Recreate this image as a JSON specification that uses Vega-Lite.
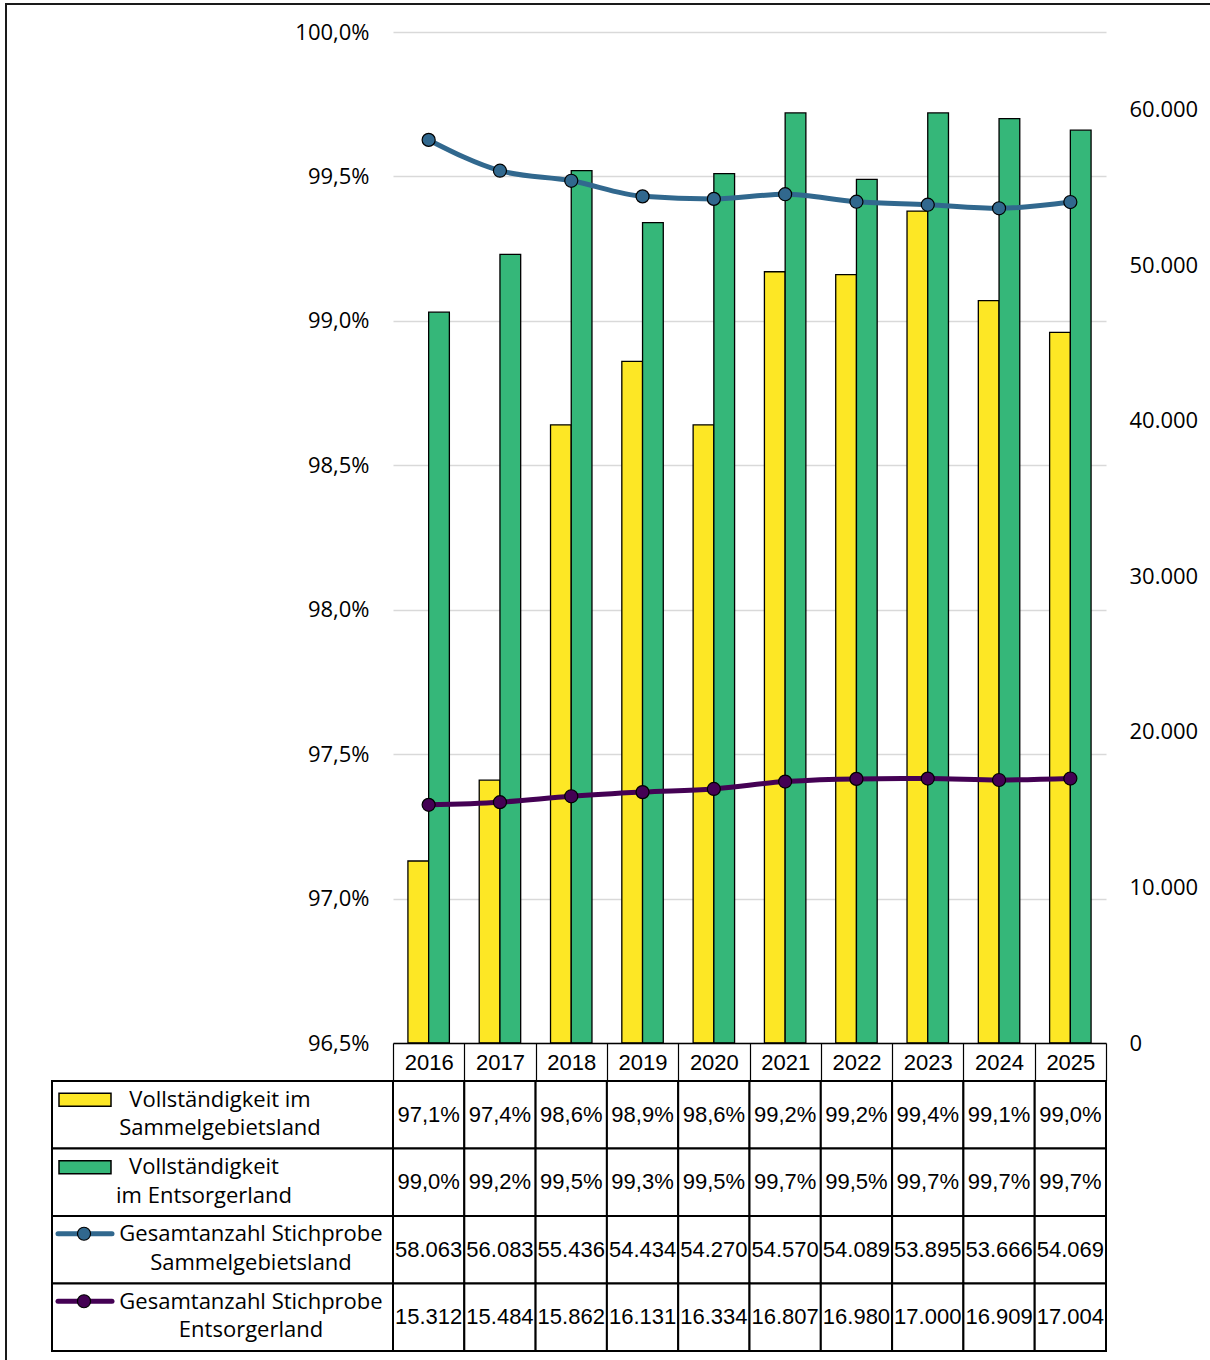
{
  "$schema": "https://vega.github.io/schema/vega-lite/v6.json",
  "width": 1210,
  "height": 1362,
  "autosize": {"type": "none"},
  "padding": {"left": 6, "top": 4, "right": -6, "bottom": -6},
  "background": "white",
  "config": {
    "locale": {"number": {"decimal": ",", "thousands": ".", "grouping": [3], "currency": ["", " €"]}},
    "view": {"stroke": "#1a1a1a", "strokeWidth": 2},
    "font": "Liberation Sans"
  },
  "datasets": {
    "werte": [
      {"Jahr": "2016", "Reihe": "Vollständigkeit im Sammelgebietsland", "Wert": 0.9713},
      {"Jahr": "2017", "Reihe": "Vollständigkeit im Sammelgebietsland", "Wert": 0.9741},
      {"Jahr": "2018", "Reihe": "Vollständigkeit im Sammelgebietsland", "Wert": 0.9864},
      {"Jahr": "2019", "Reihe": "Vollständigkeit im Sammelgebietsland", "Wert": 0.9886},
      {"Jahr": "2020", "Reihe": "Vollständigkeit im Sammelgebietsland", "Wert": 0.9864},
      {"Jahr": "2021", "Reihe": "Vollständigkeit im Sammelgebietsland", "Wert": 0.9917},
      {"Jahr": "2022", "Reihe": "Vollständigkeit im Sammelgebietsland", "Wert": 0.9916},
      {"Jahr": "2023", "Reihe": "Vollständigkeit im Sammelgebietsland", "Wert": 0.9938},
      {"Jahr": "2024", "Reihe": "Vollständigkeit im Sammelgebietsland", "Wert": 0.9907},
      {"Jahr": "2025", "Reihe": "Vollständigkeit im Sammelgebietsland", "Wert": 0.9896},
      {"Jahr": "2016", "Reihe": "Vollständigkeit im Entsorgerland", "Wert": 0.9903},
      {"Jahr": "2017", "Reihe": "Vollständigkeit im Entsorgerland", "Wert": 0.9923},
      {"Jahr": "2018", "Reihe": "Vollständigkeit im Entsorgerland", "Wert": 0.9952},
      {"Jahr": "2019", "Reihe": "Vollständigkeit im Entsorgerland", "Wert": 0.9934},
      {"Jahr": "2020", "Reihe": "Vollständigkeit im Entsorgerland", "Wert": 0.9951},
      {"Jahr": "2021", "Reihe": "Vollständigkeit im Entsorgerland", "Wert": 0.9972},
      {"Jahr": "2022", "Reihe": "Vollständigkeit im Entsorgerland", "Wert": 0.9949},
      {"Jahr": "2023", "Reihe": "Vollständigkeit im Entsorgerland", "Wert": 0.9972},
      {"Jahr": "2024", "Reihe": "Vollständigkeit im Entsorgerland", "Wert": 0.9970},
      {"Jahr": "2025", "Reihe": "Vollständigkeit im Entsorgerland", "Wert": 0.9966},
      {"Jahr": "2016", "Reihe": "Gesamtanzahl Stichprobe Sammelgebietsland", "Wert": 58063},
      {"Jahr": "2017", "Reihe": "Gesamtanzahl Stichprobe Sammelgebietsland", "Wert": 56083},
      {"Jahr": "2018", "Reihe": "Gesamtanzahl Stichprobe Sammelgebietsland", "Wert": 55436},
      {"Jahr": "2019", "Reihe": "Gesamtanzahl Stichprobe Sammelgebietsland", "Wert": 54434},
      {"Jahr": "2020", "Reihe": "Gesamtanzahl Stichprobe Sammelgebietsland", "Wert": 54270},
      {"Jahr": "2021", "Reihe": "Gesamtanzahl Stichprobe Sammelgebietsland", "Wert": 54570},
      {"Jahr": "2022", "Reihe": "Gesamtanzahl Stichprobe Sammelgebietsland", "Wert": 54089},
      {"Jahr": "2023", "Reihe": "Gesamtanzahl Stichprobe Sammelgebietsland", "Wert": 53895},
      {"Jahr": "2024", "Reihe": "Gesamtanzahl Stichprobe Sammelgebietsland", "Wert": 53666},
      {"Jahr": "2025", "Reihe": "Gesamtanzahl Stichprobe Sammelgebietsland", "Wert": 54069},
      {"Jahr": "2016", "Reihe": "Gesamtanzahl Stichprobe Entsorgerland", "Wert": 15312},
      {"Jahr": "2017", "Reihe": "Gesamtanzahl Stichprobe Entsorgerland", "Wert": 15484},
      {"Jahr": "2018", "Reihe": "Gesamtanzahl Stichprobe Entsorgerland", "Wert": 15862},
      {"Jahr": "2019", "Reihe": "Gesamtanzahl Stichprobe Entsorgerland", "Wert": 16131},
      {"Jahr": "2020", "Reihe": "Gesamtanzahl Stichprobe Entsorgerland", "Wert": 16334},
      {"Jahr": "2021", "Reihe": "Gesamtanzahl Stichprobe Entsorgerland", "Wert": 16807},
      {"Jahr": "2022", "Reihe": "Gesamtanzahl Stichprobe Entsorgerland", "Wert": 16980},
      {"Jahr": "2023", "Reihe": "Gesamtanzahl Stichprobe Entsorgerland", "Wert": 17000},
      {"Jahr": "2024", "Reihe": "Gesamtanzahl Stichprobe Entsorgerland", "Wert": 16909},
      {"Jahr": "2025", "Reihe": "Gesamtanzahl Stichprobe Entsorgerland", "Wert": 17004}
    ],
    "legende": [
      {"Reihe": "Vollständigkeit im Sammelgebietsland", "Text": "Vollständigkeit im\nSammelgebietsland"},
      {"Reihe": "Vollständigkeit im Entsorgerland", "Text": "Vollständigkeit\nim Entsorgerland"},
      {"Reihe": "Gesamtanzahl Stichprobe Sammelgebietsland", "Text": "Gesamtanzahl Stichprobe\nSammelgebietsland"},
      {"Reihe": "Gesamtanzahl Stichprobe Entsorgerland", "Text": "Gesamtanzahl Stichprobe\nEntsorgerland"}
    ]
  },
  "resolve": {"scale": {"x": "independent", "y": "independent"}},
  "layer": [
    {
      "data": {"name": "werte"},
      "transform": [{"filter": {"field": "Reihe", "oneOf": ["Vollständigkeit im Sammelgebietsland", "Vollständigkeit im Entsorgerland"]}}],
      "mark": {"type": "bar", "stroke": "#000", "strokeWidth": 1.3},
      "encoding": {
        "x": {"field": "Jahr", "type": "nominal", "scale": {"range": [387, 1100], "paddingInner": 0, "paddingOuter": 0},
          "axis": {"orient": "bottom", "offset": -323, "title": null, "tickBand": "extent", "tickSize": 37.7, "tickColor": "#000", "tickWidth": 1.2, "domainColor": "#000", "domainWidth": 1.5, "labelFont": "Liberation Sans", "labelFontSize": 22, "labelColor": "#000", "labelBaseline": "middle", "labelPadding": -18.7, "labelAngle": 0, "grid": false, "zindex": 1}},
        "xOffset": {"field": "Reihe", "type": "nominal", "scale": {"domain": ["Vollständigkeit im Sammelgebietsland", "Vollständigkeit im Entsorgerland"], "paddingInner": 0, "paddingOuter": 0.72}},
        "y": {"field": "Wert", "type": "quantitative", "scale": {"domain": [0.965, 1], "range": [1039, 28], "zero": false, "nice": false},
          "axis": {"orient": "left", "offset": -387, "title": null, "values": [0.965, 0.97, 0.975, 0.98, 0.985, 0.99, 0.995, 1], "format": ".1%", "domain": false, "ticks": false, "labelPadding": 24, "labelFont": "Open Sans", "labelFontSize": 22, "labelColor": "#000", "labelFlush": false, "grid": true, "gridColor": "#d9d9d9", "gridWidth": 1.5}},
        "y2": {"datum": 0.965},
        "color": {"field": "Reihe", "type": "nominal", "scale": {"domain": ["Vollständigkeit im Sammelgebietsland", "Vollständigkeit im Entsorgerland", "Gesamtanzahl Stichprobe Sammelgebietsland", "Gesamtanzahl Stichprobe Entsorgerland"], "range": ["#FDE725", "#35B779", "#31688E", "#440154"]}, "legend": null}
      }
    },
    {
      "data": {"name": "werte"},
      "transform": [{"filter": {"field": "Reihe", "oneOf": ["Gesamtanzahl Stichprobe Sammelgebietsland", "Gesamtanzahl Stichprobe Entsorgerland"]}}],
      "mark": {"type": "line", "interpolate": "monotone", "strokeWidth": 5, "point": {"filled": true, "size": 170, "stroke": "#000", "strokeWidth": 1.2}},
      "encoding": {
        "x": {"field": "Jahr", "type": "nominal", "scale": {"range": [387, 1100], "paddingInner": 0, "paddingOuter": 0}, "axis": null},
        "y": {"field": "Wert", "type": "quantitative", "scale": {"domain": [0, 65000], "range": [1039, 28], "nice": false},
          "axis": {"orient": "right", "offset": -110, "title": null, "values": [0, 10000, 20000, 30000, 40000, 50000, 60000], "format": ",.0f", "domain": false, "ticks": false, "labelPadding": 23, "labelFont": "Open Sans", "labelFontSize": 22, "labelColor": "#000", "labelFlush": false, "grid": false}},
        "color": {"field": "Reihe", "type": "nominal", "scale": {"domain": ["Vollständigkeit im Sammelgebietsland", "Vollständigkeit im Entsorgerland", "Gesamtanzahl Stichprobe Sammelgebietsland", "Gesamtanzahl Stichprobe Entsorgerland"], "range": ["#FDE725", "#35B779", "#31688E", "#440154"]}, "legend": null}
      }
    },
    {
      "data": {"name": "werte"},
      "mark": {"type": "rect", "fill": "white", "stroke": "#000", "strokeWidth": 2},
      "encoding": {
        "x": {"field": "Jahr", "type": "nominal", "scale": {"range": [387, 1100], "paddingInner": 0, "paddingOuter": 0}, "axis": null},
        "y": {"field": "Reihe", "type": "nominal", "scale": {"domain": ["Vollständigkeit im Sammelgebietsland", "Vollständigkeit im Entsorgerland", "Gesamtanzahl Stichprobe Sammelgebietsland", "Gesamtanzahl Stichprobe Entsorgerland"], "range": [1077, 1347], "paddingInner": 0, "paddingOuter": 0}, "axis": null}
      }
    },
    {
      "data": {"name": "legende"},
      "mark": {"type": "rect", "fill": "white", "stroke": "#000", "strokeWidth": 2},
      "encoding": {
        "x": {"datum": "Legende", "type": "nominal", "scale": {"range": [46, 387], "paddingInner": 0, "paddingOuter": 0}, "axis": null},
        "y": {"field": "Reihe", "type": "nominal", "scale": {"domain": ["Vollständigkeit im Sammelgebietsland", "Vollständigkeit im Entsorgerland", "Gesamtanzahl Stichprobe Sammelgebietsland", "Gesamtanzahl Stichprobe Entsorgerland"], "range": [1077, 1347], "paddingInner": 0, "paddingOuter": 0}, "axis": null}
      }
    },
    {
      "data": {"name": "werte"},
      "transform": [{"filter": {"field": "Reihe", "oneOf": ["Vollständigkeit im Sammelgebietsland", "Vollständigkeit im Entsorgerland"]}}],
      "mark": {"type": "text", "font": "Liberation Sans", "fontSize": 22, "baseline": "middle", "align": "center", "color": "#000"},
      "encoding": {
        "x": {"field": "Jahr", "type": "nominal", "scale": {"range": [387, 1100], "paddingInner": 0, "paddingOuter": 0}, "axis": null},
        "y": {"field": "Reihe", "type": "nominal", "scale": {"domain": ["Vollständigkeit im Sammelgebietsland", "Vollständigkeit im Entsorgerland", "Gesamtanzahl Stichprobe Sammelgebietsland", "Gesamtanzahl Stichprobe Entsorgerland"], "range": [1077, 1347], "paddingInner": 0, "paddingOuter": 0}, "axis": null},
        "text": {"field": "Wert", "type": "quantitative", "format": ".1%"}
      }
    },
    {
      "data": {"name": "werte"},
      "transform": [{"filter": {"field": "Reihe", "oneOf": ["Gesamtanzahl Stichprobe Sammelgebietsland", "Gesamtanzahl Stichprobe Entsorgerland"]}}],
      "mark": {"type": "text", "font": "Liberation Sans", "fontSize": 22, "baseline": "middle", "align": "center", "color": "#000"},
      "encoding": {
        "x": {"field": "Jahr", "type": "nominal", "scale": {"range": [387, 1100], "paddingInner": 0, "paddingOuter": 0}, "axis": null},
        "y": {"field": "Reihe", "type": "nominal", "scale": {"domain": ["Vollständigkeit im Sammelgebietsland", "Vollständigkeit im Entsorgerland", "Gesamtanzahl Stichprobe Sammelgebietsland", "Gesamtanzahl Stichprobe Entsorgerland"], "range": [1077, 1347], "paddingInner": 0, "paddingOuter": 0}, "axis": null},
        "text": {"field": "Wert", "type": "quantitative", "format": ",.0f"}
      }
    },
    {
      "data": {"name": "legende"},
      "transform": [{"filter": {"field": "Reihe", "oneOf": ["Vollständigkeit im Sammelgebietsland"]}}],
      "mark": {"type": "text", "font": "Open Sans", "fontSize": 22, "baseline": "alphabetic", "align": "center", "color": "#000", "lineBreak": "\n", "lineHeight": 28.5, "dx": -2.5, "dy": -8},
      "encoding": {
        "x": {"datum": "Legende", "type": "nominal", "scale": {"range": [46, 387], "paddingInner": 0, "paddingOuter": 0}, "axis": null},
        "y": {"field": "Reihe", "type": "nominal", "scale": {"domain": ["Vollständigkeit im Sammelgebietsland", "Vollständigkeit im Entsorgerland", "Gesamtanzahl Stichprobe Sammelgebietsland", "Gesamtanzahl Stichprobe Entsorgerland"], "range": [1077, 1347], "paddingInner": 0, "paddingOuter": 0}, "axis": null},
        "text": {"field": "Text", "type": "nominal"}
      }
    },
    {
      "data": {"name": "legende"},
      "transform": [{"filter": {"field": "Reihe", "oneOf": ["Vollständigkeit im Entsorgerland"]}}],
      "mark": {"type": "text", "font": "Open Sans", "fontSize": 22, "baseline": "alphabetic", "align": "center", "color": "#000", "lineBreak": "\n", "lineHeight": 28.5, "dx": -18.5, "dy": -8},
      "encoding": {
        "x": {"datum": "Legende", "type": "nominal", "scale": {"range": [46, 387], "paddingInner": 0, "paddingOuter": 0}, "axis": null},
        "y": {"field": "Reihe", "type": "nominal", "scale": {"domain": ["Vollständigkeit im Sammelgebietsland", "Vollständigkeit im Entsorgerland", "Gesamtanzahl Stichprobe Sammelgebietsland", "Gesamtanzahl Stichprobe Entsorgerland"], "range": [1077, 1347], "paddingInner": 0, "paddingOuter": 0}, "axis": null},
        "text": {"field": "Text", "type": "nominal"}
      }
    },
    {
      "data": {"name": "legende"},
      "transform": [{"filter": {"field": "Reihe", "oneOf": ["Gesamtanzahl Stichprobe Sammelgebietsland", "Gesamtanzahl Stichprobe Entsorgerland"]}}],
      "mark": {"type": "text", "font": "Open Sans", "fontSize": 22, "baseline": "alphabetic", "align": "center", "color": "#000", "lineBreak": "\n", "lineHeight": 28.5, "dx": 28.5, "dy": -8.5},
      "encoding": {
        "x": {"datum": "Legende", "type": "nominal", "scale": {"range": [46, 387], "paddingInner": 0, "paddingOuter": 0}, "axis": null},
        "y": {"field": "Reihe", "type": "nominal", "scale": {"domain": ["Vollständigkeit im Sammelgebietsland", "Vollständigkeit im Entsorgerland", "Gesamtanzahl Stichprobe Sammelgebietsland", "Gesamtanzahl Stichprobe Entsorgerland"], "range": [1077, 1347], "paddingInner": 0, "paddingOuter": 0}, "axis": null},
        "text": {"field": "Text", "type": "nominal"}
      }
    },
    {
      "data": {"name": "legende"},
      "transform": [{"filter": {"field": "Reihe", "oneOf": ["Vollständigkeit im Sammelgebietsland", "Vollständigkeit im Entsorgerland"]}}],
      "mark": {"type": "point", "shape": "M-1,-0.25H1V0.25H-1Z", "size": 2704, "filled": true, "opacity": 1, "stroke": "#000", "strokeWidth": 1.5},
      "encoding": {
        "x": {"datum": "Symbol", "type": "nominal", "scale": {"range": [53, 105], "paddingInner": 0, "paddingOuter": 0}, "axis": null},
        "y": {"field": "Reihe", "type": "nominal", "scale": {"domain": ["Vollständigkeit im Sammelgebietsland", "Vollständigkeit im Entsorgerland", "Gesamtanzahl Stichprobe Sammelgebietsland", "Gesamtanzahl Stichprobe Entsorgerland"], "range": [1062, 1332], "paddingInner": 0, "paddingOuter": 0}, "axis": null},
        "color": {"field": "Reihe", "type": "nominal", "scale": {"domain": ["Vollständigkeit im Sammelgebietsland", "Vollständigkeit im Entsorgerland", "Gesamtanzahl Stichprobe Sammelgebietsland", "Gesamtanzahl Stichprobe Entsorgerland"], "range": ["#FDE725", "#35B779", "#31688E", "#440154"]}, "legend": null}
      }
    },
    {
      "data": {"name": "legende"},
      "transform": [{"filter": {"field": "Reihe", "oneOf": ["Gesamtanzahl Stichprobe Sammelgebietsland", "Gesamtanzahl Stichprobe Entsorgerland"]}}],
      "mark": {"type": "point", "shape": "M-1,0H1", "size": 2916, "filled": false, "opacity": 1, "strokeWidth": 5, "strokeCap": "round"},
      "encoding": {
        "x": {"datum": "Symbol", "type": "nominal", "scale": {"range": [53, 105], "paddingInner": 0, "paddingOuter": 0}, "axis": null},
        "y": {"field": "Reihe", "type": "nominal", "scale": {"domain": ["Vollständigkeit im Sammelgebietsland", "Vollständigkeit im Entsorgerland", "Gesamtanzahl Stichprobe Sammelgebietsland", "Gesamtanzahl Stichprobe Entsorgerland"], "range": [1061, 1331], "paddingInner": 0, "paddingOuter": 0}, "axis": null},
        "color": {"field": "Reihe", "type": "nominal", "scale": {"domain": ["Vollständigkeit im Sammelgebietsland", "Vollständigkeit im Entsorgerland", "Gesamtanzahl Stichprobe Sammelgebietsland", "Gesamtanzahl Stichprobe Entsorgerland"], "range": ["#FDE725", "#35B779", "#31688E", "#440154"]}, "legend": null}
      }
    },
    {
      "data": {"name": "legende"},
      "transform": [{"filter": {"field": "Reihe", "oneOf": ["Gesamtanzahl Stichprobe Sammelgebietsland", "Gesamtanzahl Stichprobe Entsorgerland"]}}],
      "mark": {"type": "point", "shape": "circle", "size": 170, "filled": true, "opacity": 1, "stroke": "#000", "strokeWidth": 1.2},
      "encoding": {
        "x": {"datum": "Symbol", "type": "nominal", "scale": {"range": [52, 104], "paddingInner": 0, "paddingOuter": 0}, "axis": null},
        "y": {"field": "Reihe", "type": "nominal", "scale": {"domain": ["Vollständigkeit im Sammelgebietsland", "Vollständigkeit im Entsorgerland", "Gesamtanzahl Stichprobe Sammelgebietsland", "Gesamtanzahl Stichprobe Entsorgerland"], "range": [1061, 1331], "paddingInner": 0, "paddingOuter": 0}, "axis": null},
        "color": {"field": "Reihe", "type": "nominal", "scale": {"domain": ["Vollständigkeit im Sammelgebietsland", "Vollständigkeit im Entsorgerland", "Gesamtanzahl Stichprobe Sammelgebietsland", "Gesamtanzahl Stichprobe Entsorgerland"], "range": ["#FDE725", "#35B779", "#31688E", "#440154"]}, "legend": null}
      }
    }
  ]
}
